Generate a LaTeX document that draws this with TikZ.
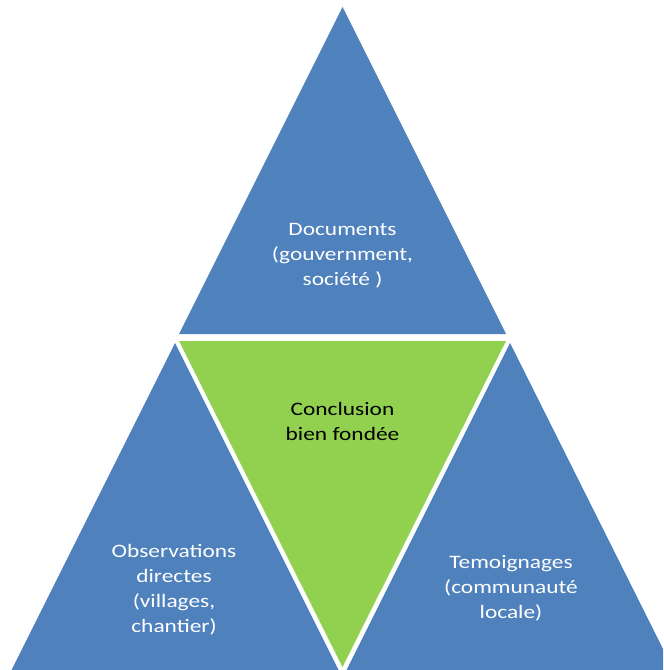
\documentclass[tikz,border=0pt]{standalone}
\usepackage{tikz}
\usepackage{xcolor}
\usepackage{graphicx}
\usepackage{fontspec}
\setmainfont{Carlito}

\definecolor{triblue}{RGB}{79,129,189}
\definecolor{trigreen}{RGB}{146,208,80}
\newcommand{\widetext}[1]{\scalebox{1.23}[1]{\begin{tabular}{@{}c@{}}#1\end{tabular}}}

\begin{document}
\begin{tikzpicture}[x=0.75pt,y=0.75pt,yscale=-1,xscale=1,
  tritext/.style={inner sep=0pt, anchor=center, font=\fontsize{14.25}{18.75}\selectfont}]
%set diagram at 663 by 670
\clip (0,0) rectangle (663,670);
\fill [white] (0,0) rectangle (663,670);

%Shape: Triangle [top]
\fill [triblue] (342.5,7) -- (506,334) -- (179,334) -- cycle ;
%Shape: Triangle [centre, inverted]
\fill [trigreen] (179,341) -- (506,341) -- (342.5,667) -- cycle ;
%Shape: Triangle [left]
\fill [triblue] (175,343) -- (338.5,670) -- (11.5,670) -- cycle ;
%Shape: Triangle [right]
\fill [triblue] (510,343) -- (673.5,670) -- (346.5,670) -- cycle ;

% Text Node
\node (docs) at (342.5,255) [tritext, text=white] {\widetext{Documents\\(gouvernment,\\société )}};
% Text Node
\node (concl) at (342.5,422.5) [tritext, text=black] {\widetext{Conclusion\\bien fondée}};
% Text Node
\node (obs) at (174,589.5) [tritext, text=white] {\widetext{Observations\\directes\\(villages,\\chantier)}};
% Text Node
\node (temo) at (511,588) [tritext, text=white] {\widetext{Temoignages\\(communauté\\locale)}};

\end{tikzpicture}
\end{document}
